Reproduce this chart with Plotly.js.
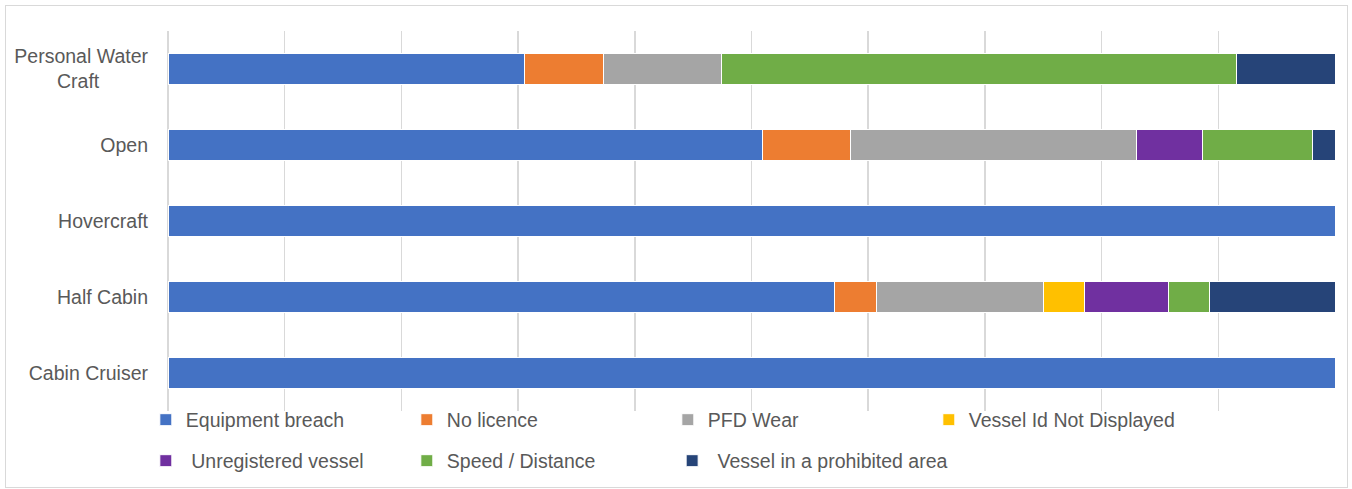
<!DOCTYPE html>
<html><head><meta charset="utf-8">
<script src="https://cdn.plot.ly/plotly-3.0.1.min.js"></script>
<style>
html,body{margin:0;padding:0;background:#fff;}
#wrap{position:relative;width:1352px;height:489px;}
#chart{width:1352px;height:489px;}
#frame{position:absolute;left:5px;top:5px;width:1341px;height:481px;border:1.5px solid #d9d9d9;pointer-events:none;}
</style></head>
<body><div id="wrap"><div id="chart"></div><div id="frame"></div></div>
<script>
const categories = ["Cabin Cruiser", "Half Cabin", "Hovercraft", "Open", "Personal Water<br>Craft\u00a0\u00a0\u00a0\u00a0\u00a0\u00a0\u00a0\u00a0\u00a0"];
const seriesNames = ["Equipment breach", "No licence", "PFD Wear", "Vessel Id Not Displayed", " Unregistered vessel", "Speed / Distance", " Vessel in a prohibited area"];
const colors = ["#4472c4", "#ed7d31", "#a5a5a5", "#ffc000", "#7030a0", "#70ad47", "#264478"];
const equipmentBreach = [2, 16, 1, 27, 18];
const noLicence = [0, 1, 0, 4, 4];
const pfdWear = [0, 4, 0, 13, 6];
const vesselIdNotDisplayed = [0, 1, 0, 0, 0];
const unregisteredVessel = [0, 2, 0, 3, 0];
const speedDistance = [0, 1, 0, 5, 26];
const prohibitedArea = [0, 3, 0, 1, 5];
const seriesValues = [equipmentBreach, noLicence, pfdWear, vesselIdNotDisplayed, unregisteredVessel, speedDistance, prohibitedArea];
const legendOf = ["legend", "legend", "legend", "legend", "legend2", "legend2", "legend3"];

const traces = seriesValues.map((vals, i) => ({
  type: "bar", orientation: "h",
  y: categories, x: vals, name: seriesNames[i],
  marker: {color: colors[i], line: {color: "#ffffff", width: 1}},
  legend: legendOf[i],
  hoverinfo: "name+x"
}));

const textFont = {family: "Liberation Sans, Arial, sans-serif", size: 19.5, color: "#595959"};
function leg(x, y, ew) {
  const o = {orientation: "h", x: x, xanchor: "left", y: y, yanchor: "middle",
    font: textFont, bgcolor: "rgba(0,0,0,0)", traceorder: "normal"};
  if (ew) { o.entrywidth = ew; o.entrywidthmode = "pixels"; }
  return o;
}
const layout = {
  width: 1352, height: 489,
  margin: {l: 168, r: 17, t: 31, b: 78, autoexpand: false},
  barmode: "stack", barnorm: "percent", bargap: 0.58,
  paper_bgcolor: "#ffffff", plot_bgcolor: "#ffffff",
  font: textFont,
  xaxis: {range: [0, 100], dtick: 10, showticklabels: false, showgrid: true,
    gridcolor: "#d9d9d9", gridwidth: 1.5, zeroline: true, zerolinecolor: "#d9d9d9", zerolinewidth: 1.5,
    showline: false, fixedrange: true},
  yaxis: {type: "category", categoryorder: "array", categoryarray: categories,
    range: [-0.5, 4.5], showgrid: false, zeroline: false, showline: false,
    ticks: "", ticklabelstandoff: 19, tickfont: textFont, fixedrange: true, automargin: false},
  legend: leg(-0.019, -0.0237, 216),
  legend2: leg(-0.019, -0.1316, 216),
  legend3: leg(0.432, -0.1316, 0),
  showlegend: true
};
Plotly.newPlot("chart", traces, layout, {displayModeBar: false, staticPlot: true});
</script></body></html>
